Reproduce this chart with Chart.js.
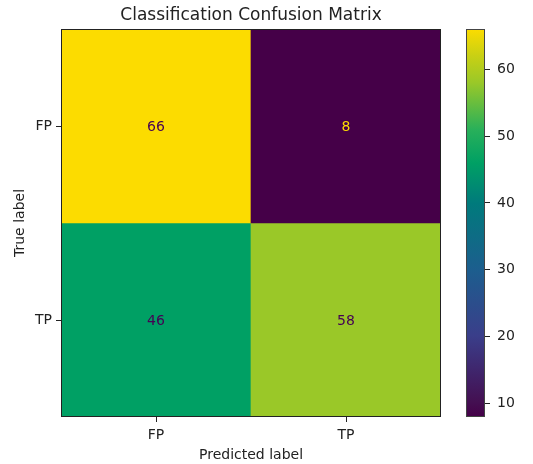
<!DOCTYPE html>
<html>
<head>
<meta charset="utf-8">
<script src="https://cdn.jsdelivr.net/npm/chart.js@4/dist/chart.umd.min.js"></script>
<style>
  html, body { margin: 0; padding: 0; background: #fff; }
  #wrap { position: relative; width: 533px; height: 464px; }
  #main { position: absolute; left: 0; top: 0; }
  #cbar { position: absolute; left: 466px; top: 0; }
</style>
</head>
<body>
<div id="wrap">
  <canvas id="main" width="533" height="464"></canvas>
  <canvas id="cbar" width="67" height="464"></canvas>
</div>
<script>
// ---- data ----
const predictedLabels = ['FP', 'TP'];
const trueLabels = ['FP', 'TP'];
const rowFP = [66, 8];   // true FP row: predicted FP, predicted TP
const rowTP = [46, 58];  // true TP row
const colorbarTicks = [10, 20, 30, 40, 50, 60];
const vmin = 8, vmax = 66;

// viridis-like colormap as seen in reference
const cmapStops = [
  [0.00, [69, 0, 72]],
  [0.04, [68, 16, 82]],
  [0.21, [58, 62, 138]],
  [0.38, [28, 94, 142]],
  [0.55, [0, 122, 124]],
  [0.655, [0, 160, 100]],
  [0.74, [40, 176, 90]],
  [0.862, [154, 200, 40]],
  [0.93, [200, 208, 20]],
  [1.00, [252, 220, 0]]
];
function cmap(v) {
  const t = Math.max(0, Math.min(1, (v - vmin) / (vmax - vmin)));
  for (let i = 1; i < cmapStops.length; i++) {
    const [t1, c1] = cmapStops[i];
    const [t0, c0] = cmapStops[i - 1];
    if (t <= t1) {
      const f = (t - t0) / (t1 - t0);
      const c = c0.map((x, k) => Math.round(x + (c1[k] - x) * f));
      return `rgb(${c[0]},${c[1]},${c[2]})`;
    }
  }
  const c = cmapStops[cmapStops.length - 1][1];
  return `rgb(${c[0]},${c[1]},${c[2]})`;
}
const FONT = 'DejaVu Sans';
const FS = 14;
const rows = [rowFP, rowTP];

const cellTextPlugin = {
  id: 'cellText',
  afterDatasetsDraw(chart) {
    const ctx = chart.ctx;
    ctx.save();
    ctx.font = `${FS}px "${FONT}"`;
    ctx.textAlign = 'center';
    ctx.textBaseline = 'middle';
    rows.forEach((row, r) => {
      const meta = chart.getDatasetMeta(r);
      row.forEach((v, c) => {
        const el = meta.data[c];
        const cy = (el.y + el.base) / 2 + 1;
        const t = (v - vmin) / (vmax - vmin);
        ctx.fillStyle = t < 0.5 ? 'rgb(252,220,0)' : '#440154';
        ctx.fillText(String(v), el.x, cy);
      });
    });
    ctx.restore();
  },
  afterDraw(chart) {
    const ctx = chart.ctx, a = chart.chartArea;
    ctx.save();
    ctx.strokeStyle = '#222';
    ctx.lineWidth = 1;
    ctx.strokeRect(a.left + 0.5, a.top + 0.5, a.right - a.left - 1, a.bottom - a.top - 1);
    ctx.fillStyle = '#222';
    ctx.font = `17px "${FONT}"`;
    ctx.textAlign = 'center';
    ctx.textBaseline = 'middle';
    ctx.fillText('Classification Confusion Matrix', (a.left + a.right) / 2, 16);
    ctx.restore();
  }
};

new Chart(document.getElementById('main'), {
  type: 'bar',
  data: {
    labels: predictedLabels,
    datasets: rows.map((row, r) => ({
      label: trueLabels[r],
      data: row.map(() => 1),
      backgroundColor: row.map(cmap),
      borderWidth: 0,
      barPercentage: 1,
      categoryPercentage: 1
    }))
  },
  options: {
    responsive: false,
    animation: false,
    events: [],
    layout: { padding: { top: 29, right: 92, bottom: 0, left: 0 } },
    plugins: { legend: { display: false }, tooltip: { enabled: false }, title: { display: false } },
    scales: {
      x: {
        stacked: true,
        grid: { drawOnChartArea: false, drawTicks: true, tickLength: 5, color: '#222', offset: false },
        border: { display: false },
        ticks: { color: '#222', font: { family: FONT, size: FS }, padding: 5, maxRotation: 0 },
        title: { display: true, text: 'Predicted label', color: '#222', font: { family: FONT, size: FS }, padding: { top: 0, bottom: 0 } },
        afterFit(s) { s.height = 47; }
      },
      y: {
        stacked: true,
        min: 0, max: 2, reverse: true,
        grid: { drawOnChartArea: false, drawTicks: true, tickLength: 5, color: '#222' },
        border: { display: false },
        afterBuildTicks(s) { s.ticks = [{ value: 0.5 }, { value: 1.5 }]; },
        ticks: {
          color: '#222', font: { family: FONT, size: FS }, padding: 4,
          callback: (v) => trueLabels[Math.round(v - 0.5)]
        },
        title: { display: true, text: 'True label', color: '#222', font: { family: FONT, size: FS }, padding: { top: 12, bottom: 0 } },
        afterFit(s) { s.width = 61; }
      }
    }
  },
  plugins: [cellTextPlugin]
});

// ---- colorbar ----
const cbarBorder = {
  id: 'cbarBorder',
  afterDraw(chart) {
    const ctx = chart.ctx, a = chart.chartArea;
    ctx.save();
    ctx.strokeStyle = '#444';
    ctx.lineWidth = 1;
    ctx.strokeRect(a.left + 0.5, a.top + 0.5, a.right - a.left - 1, a.bottom - a.top - 1);
    ctx.restore();
  }
};
new Chart(document.getElementById('cbar'), {
  type: 'bar',
  data: {
    labels: ['colorbar'],
    datasets: [{
      data: [[vmin, vmax]],
      borderWidth: 0,
      barPercentage: 1,
      categoryPercentage: 1,
      backgroundColor(ctx) {
        const chart = ctx.chart, a = chart.chartArea;
        if (!a) return 'gray';
        const ys = chart.scales.y;
        const g = chart.ctx.createLinearGradient(0, ys.getPixelForValue(vmin), 0, ys.getPixelForValue(vmax));
        cmapStops.forEach(([t, c]) => g.addColorStop(t, `rgb(${c[0]},${c[1]},${c[2]})`));
        return g;
      }
    }]
  },
  options: {
    responsive: false,
    animation: false,
    events: [],
    layout: { padding: { top: 29, right: 0, bottom: 47, left: 0 } },
    plugins: { legend: { display: false }, tooltip: { enabled: false } },
    scales: {
      x: { display: false, offset: true },
      y: {
        position: 'right',
        min: vmin, max: vmax,
        grid: { drawOnChartArea: false, drawTicks: true, tickLength: 5, color: '#222' },
        border: { display: false },
        afterBuildTicks(s) { s.ticks = colorbarTicks.map(v => ({ value: v })); },
        ticks: { color: '#222', font: { family: FONT, size: FS }, padding: 7 },
        afterFit(s) { s.width = 48; }
      }
    }
  },
  plugins: [cbarBorder]
});
</script>
</body>
</html>
